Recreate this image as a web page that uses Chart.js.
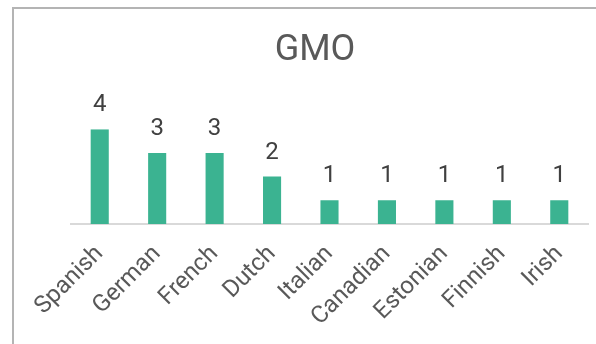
<!DOCTYPE html>
<html>
<head>
<meta charset="utf-8">
<script src="https://cdn.jsdelivr.net/npm/chart.js@4"></script>
<style>
  html, body { margin: 0; padding: 0; background: #fff; }
  #wrap { position: relative; width: 596px; height: 344px; overflow: hidden; }
  #frame {
    position: absolute; left: 12px; top: 7px; width: 700px; height: 500px;
    border: 2px solid #b4b4b4; box-sizing: border-box;
  }
  #myChart { position: absolute; left: 0; top: 0; }
</style>
</head>
<body>
<div id="wrap">
  <div id="frame"></div>
  <canvas id="myChart" width="596" height="344"></canvas>
</div>
<script>
//------Data------
const categories = ['Spanish', 'German', 'French', 'Dutch', 'Italian', 'Canadian', 'Estonian', 'Finnish', 'Irish'];
const counts = [4, 3, 3, 2, 1, 1, 1, 1, 1];
//----------------

const textColor = '#595959';

// value labels over each bar
const barValues = {
  id: 'barValues',
  afterDatasetsDraw(chart) {
    const ctx = chart.ctx;
    const meta = chart.getDatasetMeta(0);
    ctx.save();
    ctx.font = '24px Roboto';
    ctx.fillStyle = '#404040';
    ctx.textAlign = 'center';
    ctx.textBaseline = 'bottom';
    meta.data.forEach((bar, i) => {
      ctx.fillText(counts[i], bar.x, bar.y - 12);
    });
    ctx.restore();
  }
};

const ctxx = document.getElementById('myChart').getContext('2d');

new Chart(ctxx, {
  type: 'bar',
  data: {
    labels: categories,
    datasets: [{
      data: counts,
      backgroundColor: '#3bb391',
      barPercentage: 0.63,
      categoryPercentage: 0.5
    }]
  },
  options: {
    responsive: false,
    animation: false,
    layout: { padding: { left: 42, right: 8, top: 0, bottom: 0 } },
    plugins: {
      legend: { display: false },
      tooltip: { enabled: false },
      title: {
        display: true,
        text: 'GMO',
        color: textColor,
        font: { family: 'Roboto', size: 36, weight: 'normal' },
        padding: { top: 29, bottom: 57 }
      }
    },
    scales: {
      x: {
        grid: { display: false },
        border: { color: '#d9d9d9', width: 2 },
        ticks: {
          color: textColor,
          font: { family: 'Roboto', size: 24 },
          minRotation: 45,
          maxRotation: 45,
          padding: 8
        },
        afterFit: (s) => { s.height = 120; }
      },
      y: {
        min: 0,
        max: 4,
        grid: { display: false },
        border: { display: false },
        ticks: { display: false },
        afterFit: (s) => { s.width = 29; }
      }
    }
  },
  plugins: [barValues]
});
</script>
</body>
</html>
